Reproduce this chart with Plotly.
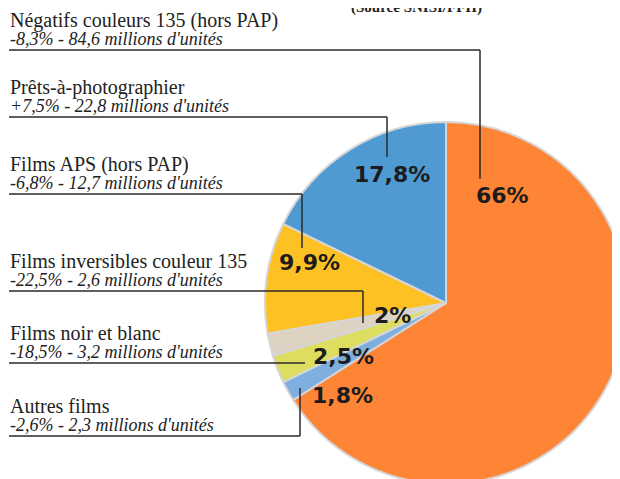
import plotly.graph_objects as go

# ---- data ----
labels = ["Négatifs couleurs 135 (hors PAP)", "Autres films", "Films noir et blanc",
          "Films inversibles couleur 135", "Films APS (hors PAP)", "Prêts-à-photographier"]
shares = [66, 1.8, 2.5, 2, 9.9, 17.8]
share_text = ["66%", "1,8%", "2,5%", "2%", "9,9%", "17,8%"]
details = ["-8,3% - 84,6 millions d'unités", "-2,6% - 2,3 millions d'unités",
           "-18,5% - 3,2 millions d'unités", "-22,5% - 2,6 millions d'unités",
           "-6,8% - 12,7 millions d'unités", "+7,5% - 22,8 millions d'unités"]
colors = ["#FE8536", "#7FAFDF", "#DDDD60", "#DED3C3", "#FEC124", "#509AD3"]
source = "(Source SNISI/FFII)"

W, H = 620, 479
OFF = 8  # page body margin offset
def fx(x): return (x - OFF) / W
def fy(y): return 1 - (y - OFF) / H

cx, cy, r = 446, 303, 181

fig = go.Figure(go.Pie(
    labels=labels, values=shares, sort=False, direction="clockwise", rotation=0,
    marker=dict(colors=colors, line=dict(color="#D6D6D6", width=2)),
    textinfo="none", showlegend=False, hoverinfo="label+percent",
    domain=dict(x=[max(0, fx(cx - r)), min(1, fx(cx + r))],
                y=[max(0, fy(cy + r)), min(1, fy(cy - r))]),
))

# label layout (pixel positions of each label block, in legend order top->bottom)
order = [0, 5, 4, 3, 2, 1]
title_base = [27, 94, 171, 268, 340, 413]
# leader line: (horizontal y, end x, vertical end y or None)
leaders = [(50, 480, 179), (117, 387, 157), (194, 302, 248),
           (291, 363, 323), (363, 305, None), (436, 300, 388)]
pct_pos = {0: (502, 195.5), 5: (391.5, 174.5), 4: (309.5, 263),
           3: (392, 315), 2: (343.5, 356.5), 1: (342, 395.5)}

ann = []
shapes = []
for k, i in enumerate(order):
    tb = title_base[k]
    ann.append(dict(x=fx(8), y=fy(tb - 0.34 * 20), xref="paper", yref="paper",
                    xanchor="left", yanchor="middle", showarrow=False, text=labels[i],
                    font=dict(family="Liberation Serif", size=20, color="#222222")))
    ann.append(dict(x=fx(8), y=fy(tb + 18 - 0.34 * 18), xref="paper", yref="paper",
                    xanchor="left", yanchor="middle", showarrow=False,
                    text="<i>" + details[i] + "</i>",
                    font=dict(family="Liberation Serif", size=18, color="#222222")))
    hy, ex, vy = leaders[k]
    shapes.append(dict(type="line", xref="paper", yref="paper", x0=fx(9), x1=fx(ex),
                       y0=fy(hy), y1=fy(hy), line=dict(color="#2a2a2a", width=1.5)))
    if vy is not None:
        shapes.append(dict(type="line", xref="paper", yref="paper", x0=fx(ex), x1=fx(ex),
                           y0=fy(hy), y1=fy(vy), line=dict(color="#2a2a2a", width=1.5)))

for i, (px, py) in pct_pos.items():
    ann.append(dict(x=fx(px), y=fy(py), xref="paper", yref="paper", xanchor="center",
                    yanchor="middle", showarrow=False, text="<b>" + share_text[i] + "</b>",
                    font=dict(family="DejaVu Sans", size=22, color="#1c1c1c")))

ann.append(dict(x=fx(416), y=fy(7), xref="paper", yref="paper", xanchor="center",
                yanchor="middle", showarrow=False, text="<b>" + source + "</b>",
                font=dict(family="Liberation Serif", size=15, color="#222222")))

fig.update_layout(width=W, height=H, margin=dict(l=0, r=0, t=0, b=0),
                  paper_bgcolor="white", plot_bgcolor="white",
                  annotations=ann, shapes=shapes)
fig.write_html("out.html")
